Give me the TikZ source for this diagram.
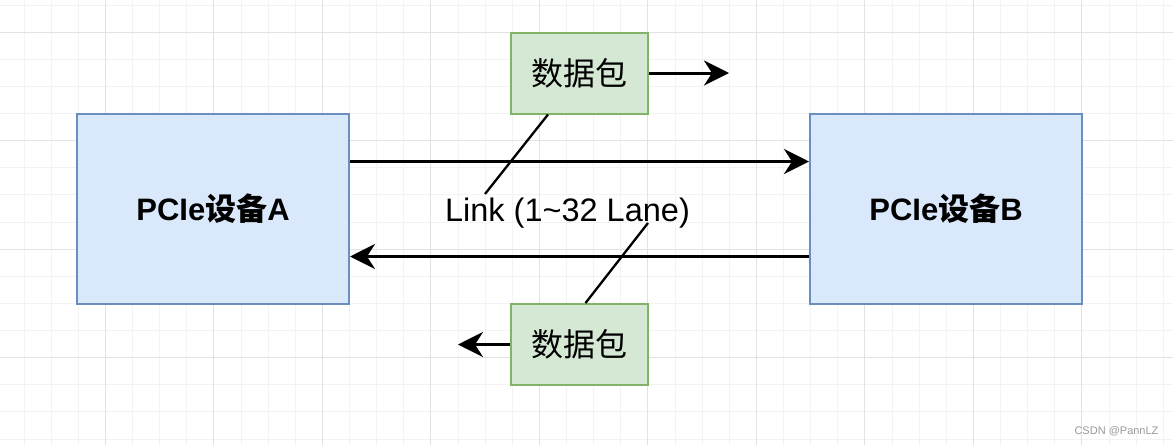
\documentclass[tikz,border=0pt]{standalone}
\usepackage{fontspec}
\setmainfont{Liberation Sans}
\newfontfamily\cjk{Noto Sans CJK SC}
\usetikzlibrary{arrows.meta}
\definecolor{bfill}{HTML}{DAE8FC}
\definecolor{bdraw}{HTML}{6C8EBF}
\definecolor{gfill}{HTML}{D5E8D4}
\definecolor{gdraw}{HTML}{82B366}
\definecolor{gminor}{HTML}{F3F3F3}
\definecolor{gmajor}{HTML}{E2E2E2}
\tikzset{
  devbox/.style={draw=bdraw, fill=bfill, line width=2pt, minimum width=272pt, minimum height=190pt, inner sep=0pt},
  pktbox/.style={draw=gdraw, fill=gfill, line width=2pt, minimum width=137pt, minimum height=81pt, inner sep=0pt},
  arr/.style={line width=3pt, -{Stealth[length=25pt,width=25pt,inset=8pt]}},
  callout/.style={line width=2.3pt, black},
}
\begin{document}
\begin{tikzpicture}[x=1pt,y=-1pt]
\useasboundingbox (0,0) rectangle (1173,445);
\fill[white] (0,0) rectangle (1173,445);
% minor grid
\foreach \i in {0,...,44} {
  \pgfmathsetmacro\xx{-3.125+27.125*\i}
  \draw[gminor, line width=1pt] (\xx,0) -- (\xx,445);
}
\foreach \j in {0,...,16} {
  \pgfmathsetmacro\yy{5+27.125*\j}
  \draw[gminor, line width=1pt] (0,\yy) -- (1173,\yy);
}
% major grid
\foreach \i in {0,...,10} {
  \pgfmathsetmacro\xx{-3.5+108.5*\i}
  \draw[gmajor, line width=1pt] (\xx,0) -- (\xx,445);
}
\foreach \j in {0,...,4} {
  \pgfmathsetmacro\yy{32+108.5*\j}
  \draw[gmajor, line width=1pt] (0,\yy) -- (1173,\yy);
}

\node[devbox] (A) at (213,209) {\fontsize{31}{36}\selectfont\bfseries PCIe{\cjk\bfseries 设备}A};
\node[devbox] (B) at (946,209) {\fontsize{31}{36}\selectfont\bfseries PCIe{\cjk\bfseries 设备}B};
\node[pktbox] (P1) at (579.5,73) {\fontsize{32}{38}\selectfont\cjk 数据包};
\node[pktbox] (P2) at (579.5,344.5) {\fontsize{32}{38}\selectfont\cjk 数据包};
\node[anchor=base, inner sep=0pt] (L) at (567.5,221) {\fontsize{32.5}{38}\selectfont Link (1\char"007E 32 Lane)};

\coordinate (p1end) at (729,73);
\coordinate (p2end) at (458,344.5);
\coordinate (c1) at (485,194);
\coordinate (c2) at (648,223);

\draw[arr] ([yshift=47.5pt]A.east) -- ([yshift=47.5pt]B.west);
\draw[arr] ([yshift=-47.5pt]B.west) -- ([yshift=-47.5pt]A.east);
\draw[arr] (P1.east) -- (p1end);
\draw[arr] (P2.west) -- (p2end);
\draw[callout] ([xshift=-31.5pt]P1.south) -- (c1);
\draw[callout] ([xshift=6pt]P2.north) -- (c2);

\node[text=gray!80, inner sep=0pt] (wm) at (1116.5,431) {\fontsize{11}{13}\selectfont CSDN @PannLZ};
\end{tikzpicture}
\end{document}
